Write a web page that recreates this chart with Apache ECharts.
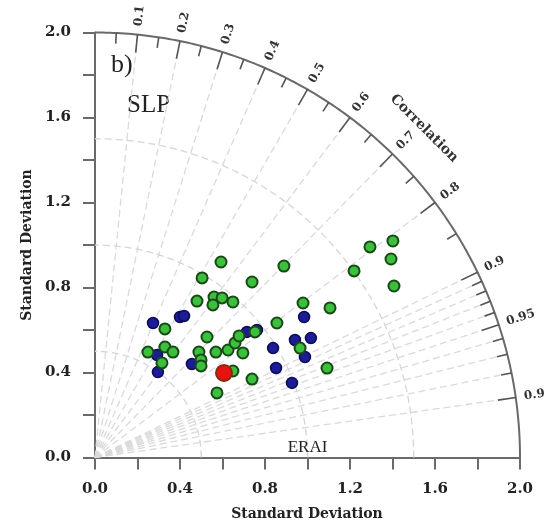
<!DOCTYPE html>
<html><head><meta charset="utf-8">
<script src="https://cdn.jsdelivr.net/npm/echarts@6/dist/echarts.min.js"></script>
<style>html,body{margin:0;padding:0;background:#fff}#c{width:545px;height:524px}</style>
</head><body><div id="c"></div>
<script>
// ---- data ----
const stdTickLabels = ['0.0', '0.4', '0.8', '1.2', '1.6', '2.0'];
const corrMajor = [0.1, 0.2, 0.3, 0.4, 0.5, 0.6, 0.7, 0.8, 0.9, 0.95, 0.99];
const corrMinor = [0.05, 0.15, 0.25, 0.35, 0.45, 0.55, 0.65, 0.75, 0.85, 0.91, 0.92, 0.93, 0.94, 0.96, 0.97, 0.98];
const corrRadial = [0.1, 0.2, 0.3, 0.4, 0.5, 0.6, 0.7, 0.8, 0.9, 0.91, 0.92, 0.93, 0.94, 0.95, 0.96, 0.97, 0.98, 0.99];
const stdArcs = [0.5, 1.0, 1.5];
const outerRadius = [2.0];
const refStd = [1.0];
// points as [x, y] in standard-deviation units
const bluePts = [
  [0.273, 0.633], [0.400, 0.661], [0.419, 0.666], [0.292, 0.482], [0.296, 0.402],
  [0.456, 0.440], [0.715, 0.591], [0.762, 0.600], [0.838, 0.515], [0.852, 0.421],
  [0.927, 0.351], [0.941, 0.553], [0.984, 0.661], [1.016, 0.562], [0.988, 0.473]
];
const greenPts = [
  [0.593, 0.920], [0.889, 0.901], [0.739, 0.826], [0.504, 0.845], [0.480, 0.736],
  [0.560, 0.755], [0.598, 0.751], [0.555, 0.718], [0.649, 0.732], [1.294, 0.991],
  [1.402, 1.019], [1.393, 0.934], [1.219, 0.878], [1.407, 0.807], [0.979, 0.727],
  [1.106, 0.704], [0.856, 0.633], [0.329, 0.605], [0.527, 0.567], [0.249, 0.496],
  [0.329, 0.520], [0.367, 0.496], [0.315, 0.445], [0.489, 0.496], [0.499, 0.459],
  [0.499, 0.431], [0.569, 0.496], [0.626, 0.506], [0.659, 0.539], [0.678, 0.572],
  [0.753, 0.591], [0.696, 0.492], [0.965, 0.515], [1.092, 0.421], [0.649, 0.407],
  [0.739, 0.369], [0.574, 0.304]
];
const redPts = [[0.607, 0.398]];

// ---- chart ----
const chart = echarts.init(document.getElementById('c'), null, {renderer: 'canvas'});
const R = outerRadius[0];
const serif = '"DejaVu Serif", serif';
const axisCommon = {
  type: 'value', min: 0, max: 2, interval: 0.2,
  axisLine: {show: true, lineStyle: {color: '#6a6a6a', width: 2}},
  axisTick: {show: true, inside: false, length: 12, lineStyle: {color: '#6a6a6a', width: 2}},
  splitLine: {show: false},
  axisLabel: {
    margin: 24, color: '#222', fontWeight: 'bold', fontFamily: serif, fontSize: 15,
    formatter: v => { const s = v.toFixed(1); return stdTickLabels.indexOf(s) >= 0 ? s : ''; }
  }
};
const fmtCorr = c => (Math.abs(c * 100 - Math.round(c * 10) * 10) > 0.01 ? c.toFixed(2) : c.toFixed(1));

chart.setOption({
  animation: false,
  grid: {left: 95, right: 25, top: 32.5, bottom: 66.5},
  xAxis: Object.assign({}, axisCommon),
  yAxis: Object.assign({}, axisCommon),
  graphic: [
    {type: 'text', left: 111, top: 52, style: {text: 'b)', font: '26px "Liberation Serif", serif', fill: '#222'}},
    {type: 'text', left: 127, top: 93, style: {text: 'SLP', font: '25px "Liberation Serif", serif', fill: '#222'}},
    {type: 'text', x: 27, y: 245, rotation: Math.PI / 2,
      style: {text: 'Standard Deviation', font: 'bold 14px ' + serif, fill: '#222', textAlign: 'center', textVerticalAlign: 'middle'}},
    {type: 'text', x: 307, y: 514,
      style: {text: 'Standard Deviation', font: 'bold 14px ' + serif, fill: '#222', textAlign: 'center', textVerticalAlign: 'middle'}}
  ],
  series: [
    { // radial correlation dashes
      type: 'custom', clip: false, z: 1, silent: true,
      data: corrRadial.map(c => [c]),
      renderItem: (p, api) => {
        const c = api.value(0), s = Math.sqrt(1 - c * c);
        const a = api.coord([0, 0]), b = api.coord([R * c, R * s]);
        return {type: 'line', shape: {x1: a[0], y1: a[1], x2: b[0], y2: b[1]},
          style: {stroke: '#dadada', lineWidth: 1.3, lineDash: [7, 4]}};
      }
    },
    { // std-dev arcs
      type: 'custom', clip: false, z: 1, silent: true,
      data: stdArcs.map(r => [r]),
      renderItem: (p, api) => {
        const r = api.value(0), pts = [];
        for (let a = 0; a <= 90; a += 1) { const t = a * Math.PI / 180; pts.push(api.coord([r * Math.cos(t), r * Math.sin(t)])); }
        return {type: 'polyline', shape: {points: pts}, style: {stroke: '#d6d6d6', lineWidth: 1.3, lineDash: [7, 4], fill: null}};
      }
    },
    { // outer correlation arc
      type: 'custom', clip: false, z: 3, silent: true,
      data: outerRadius.map(r => [r]),
      renderItem: (p, api) => {
        const r = api.value(0), pts = [];
        for (let a = 0; a <= 90; a += 0.5) { const t = a * Math.PI / 180; pts.push(api.coord([r * Math.cos(t), r * Math.sin(t)])); }
        return {type: 'polyline', shape: {points: pts}, style: {stroke: '#6a6a6a', lineWidth: 2, fill: null}};
      }
    },
    { // major correlation ticks + labels
      type: 'custom', clip: false, z: 3, silent: true,
      data: corrMajor.map(c => [c]),
      renderItem: (p, api) => {
        const c = api.value(0), s = Math.sqrt(1 - c * c), th = Math.acos(c);
        const a = api.coord([R * c, R * s]), b = api.coord([(R - 0.085) * c, (R - 0.085) * s]);
        const l = api.coord([(R + 0.04) * c, (R + 0.04) * s]);
        return {type: 'group', children: [
          {type: 'line', shape: {x1: a[0], y1: a[1], x2: b[0], y2: b[1]}, style: {stroke: '#555', lineWidth: 1.6}},
          {type: 'text', x: l[0], y: l[1], rotation: th,
            style: {text: fmtCorr(c), font: 'bold 12px ' + serif, fill: '#333', textAlign: 'left', textVerticalAlign: 'middle'}}
        ]};
      }
    },
    { // minor correlation ticks
      type: 'custom', clip: false, z: 3, silent: true,
      data: corrMinor.map(c => [c]),
      renderItem: (p, api) => {
        const c = api.value(0), s = Math.sqrt(1 - c * c);
        const a = api.coord([R * c, R * s]), b = api.coord([(R - 0.05) * c, (R - 0.05) * s]);
        return {type: 'line', shape: {x1: a[0], y1: a[1], x2: b[0], y2: b[1]}, style: {stroke: '#555', lineWidth: 1.6}};
      }
    },
    { // "Correlation" title along the arc
      type: 'custom', clip: false, z: 3, silent: true,
      data: [[45]],
      renderItem: (p, api) => {
        const t = api.value(0) * Math.PI / 180, rr = R + 0.19;
        const q = api.coord([rr * Math.cos(t), rr * Math.sin(t)]);
        return {type: 'text', x: q[0], y: q[1], rotation: t - Math.PI / 2,
          style: {text: 'Correlation', font: 'bold 14px ' + serif, fill: '#333', textAlign: 'center', textVerticalAlign: 'middle'}};
      }
    },
    { // reference label
      type: 'custom', clip: false, z: 3, silent: true,
      data: refStd.map(r => [r]),
      renderItem: (p, api) => {
        const q = api.coord([api.value(0), 0]);
        return {type: 'text', x: q[0], y: q[1] - 1,
          style: {text: 'ERAI', font: '17px "Liberation Serif", serif', fill: '#222', textAlign: 'center', textVerticalAlign: 'bottom'}};
      }
    },
    {type: 'scatter', z: 4, data: bluePts, symbol: 'circle', symbolSize: 11,
      itemStyle: {color: '#1c1c96', borderColor: '#0c0c55', borderWidth: 1.5, opacity: 1}},
    {type: 'scatter', z: 5, data: greenPts, symbol: 'circle', symbolSize: 11,
      itemStyle: {color: '#3cbf3c', borderColor: '#174a17', borderWidth: 2, opacity: 1}},
    {type: 'scatter', z: 6, data: redPts, symbol: 'circle', symbolSize: 16,
      itemStyle: {color: '#e8130e', borderColor: '#8a2a12', borderWidth: 2, opacity: 1}}
  ]
});
</script>
</body></html>
